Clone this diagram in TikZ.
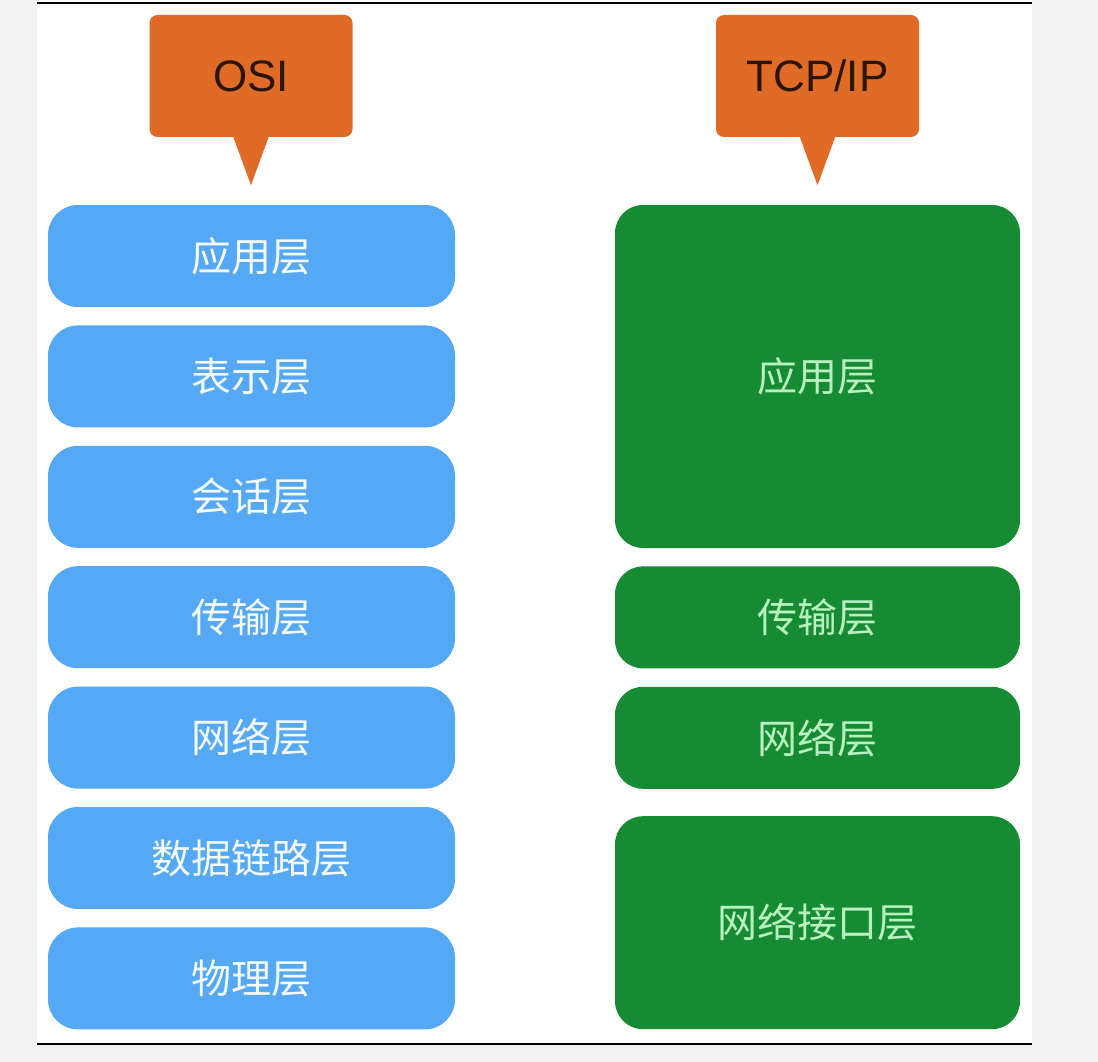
\documentclass[tikz,border=0pt]{standalone}
\usepackage{fontspec}
\setmainfont{Liberation Sans}
\newfontfamily\cjk{Noto Sans CJK SC}
\usetikzlibrary{positioning, calc}
\definecolor{calloutorange}{HTML}{E06B26}
\definecolor{callouttext}{HTML}{2B1509}
\definecolor{osiblue}{HTML}{55A8F4}
\definecolor{tcpgreen}{HTML}{178B34}
\definecolor{greentext}{HTML}{B8F0C0}
\definecolor{bggray}{HTML}{F1F1F1}
\tikzstyle{callout} = [rectangle, rounded corners=8pt,
minimum width=203pt,
minimum height=122pt,
text centered,
fill=calloutorange,
text=callouttext,
font=\fontsize{44pt}{48pt}\selectfont]
\tikzstyle{osilayer} = [rectangle, rounded corners=30pt,
minimum width=407pt,
minimum height=102pt,
text centered,
fill=osiblue,
text=white!94!osiblue,
font=\cjk\fontsize{40pt}{44pt}\selectfont]
\tikzstyle{tcplayer} = [rectangle, rounded corners=28pt,
minimum width=405pt,
minimum height=102pt,
text centered,
fill=tcpgreen,
text=greentext,
font=\cjk\fontsize{40pt}{44pt}\selectfont]
\tikzstyle{pointer} = [fill=calloutorange]
\tikzstyle{rule} = [line width=2pt, black]

\begin{document}
\begin{tikzpicture}[x=1pt, y=-1pt, node distance=18pt]

\fill[bggray] (0,0) rectangle (1098,1062);
\fill[white] (37,0) rectangle (1032,1044);
\useasboundingbox (0,0) rectangle (1098,1062);
\draw[rule] (37,3) -- (1032,3);
\draw[rule] (37,1044) -- (1032,1044);

% Titel
\node (osi) [callout] at (251,76) {OSI};
\node (tcpip) [callout] at (817.5,76) {TCP/IP};
\coordinate (ositip) at ($(osi.south)+(0,48)$);
\coordinate (tcptip) at ($(tcpip.south)+(0,48)$);
\fill[pointer] ($(osi.south)+(-18,-1)$) -- (ositip) -- ($(osi.south)+(18,-1)$) -- cycle;
\fill[pointer] ($(tcpip.south)+(-18,-1)$) -- (tcptip) -- ($(tcpip.south)+(18,-1)$) -- cycle;

% OSI
\node (app) [osilayer] at (251.5,256) {应用层};
\node (pres) [osilayer, below=of app] {表示层};
\node (sess) [osilayer, below=of pres] {会话层};
\node (trans) [osilayer, below=of sess] {传输层};
\node (net) [osilayer, below=of trans] {网络层};
\node (link) [osilayer, below=of net] {数据链路层};
\node (phys) [osilayer, below=of link] {物理层};

% TCP/IP
\node (tapp) [tcplayer, minimum height=343pt] at (817.5,376.5) {应用层};
\node (ttrans) [tcplayer, below=of tapp] {传输层};
\node (tnet) [tcplayer, below=of ttrans] {网络层};
\node (tlink) [tcplayer, minimum height=213pt, below=27pt of tnet] {网络接口层};

\end{tikzpicture}
\end{document}
